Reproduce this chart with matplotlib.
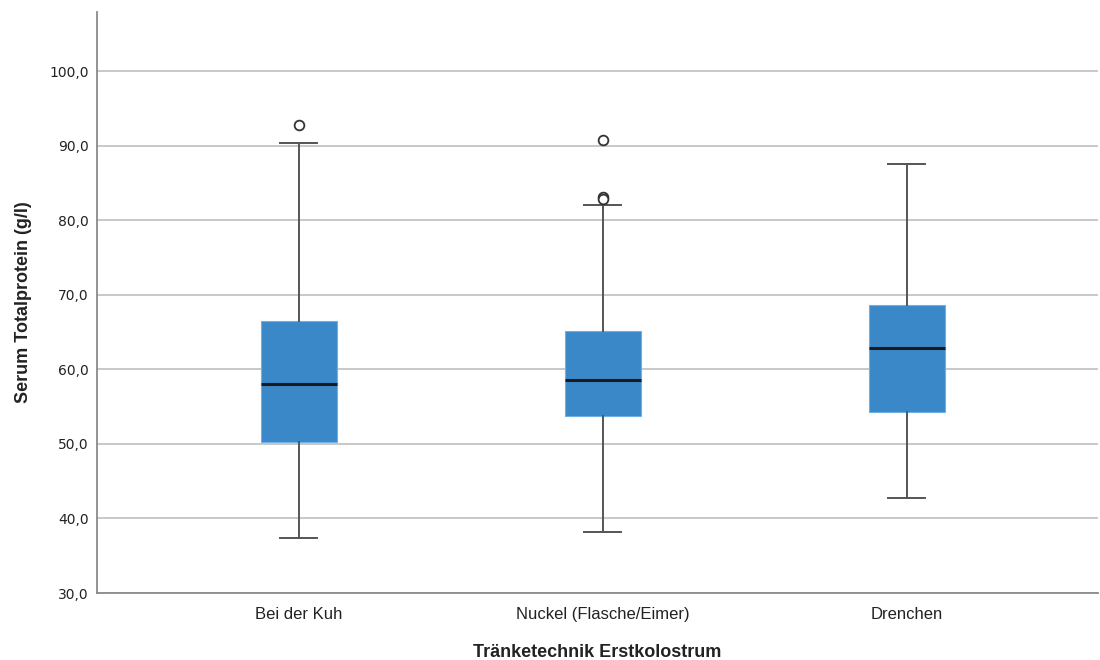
import matplotlib
matplotlib.use("Agg")
import matplotlib.pyplot as plt
from matplotlib.ticker import FuncFormatter

# Serum total protein by colostrum feeding technique
groups = ["Bei der Kuh", "Nuckel (Flasche/Eimer)", "Drenchen"]
q1 = [50.3, 53.8, 54.3]
medians = [58.0, 58.6, 62.9]
q3 = [66.5, 65.1, 68.6]
whisker_low = [37.4, 38.2, 42.8]
whisker_high = [90.4, 82.1, 87.5]
outliers = [[92.8], [90.7, 83.1, 82.8], []]

stats = []
for i, name in enumerate(groups):
    stats.append(dict(label=name, med=medians[i], q1=q1[i], q3=q3[i],
                      whislo=whisker_low[i], whishi=whisker_high[i],
                      fliers=outliers[i]))

fig = plt.figure(figsize=(11, 6.6), dpi=100)
ax = fig.add_axes([0.088, 0.1015, 0.91, 0.88])

ax.bxp(stats, positions=[1, 2, 3], widths=0.25, patch_artist=True,
       boxprops=dict(facecolor="#3a88c8", edgecolor="#6fb0e6", linewidth=0.8),
       medianprops=dict(color="#1a1a1a", linewidth=2.2),
       whiskerprops=dict(color="#555555", linewidth=1.4),
       capprops=dict(color="#555555", linewidth=1.4),
       capwidths=0.12,
       flierprops=dict(marker="o", markersize=7, markerfacecolor="white",
                       markeredgecolor="#333333", markeredgewidth=1.3),
       zorder=3)

ax.set_xlim(0.336, 3.629)
ax.set_ylim(30, 107.9)
ax.set_yticks([30, 40, 50, 60, 70, 80, 90, 100])
ax.yaxis.set_major_formatter(FuncFormatter(lambda v, p: f"{v:.1f}".replace(".", ",")))
ax.grid(axis="y", color="#c4c4c4", linewidth=1.3, zorder=0)
ax.set_axisbelow(True)

for side in ("top", "right"):
    ax.spines[side].set_visible(False)
for side in ("left", "bottom"):
    ax.spines[side].set_color("#8a8a8a")
    ax.spines[side].set_linewidth(1.3)

ax.tick_params(axis="y", length=0, pad=6, labelsize=10, labelcolor="#222222")
ax.tick_params(axis="x", length=0, pad=10, labelsize=12, labelcolor="#222222")
for t in ax.get_xticklabels():
    t.set_fontfamily("Liberation Sans")

ax.set_ylabel("Serum Totalprotein (g/l)", fontsize=13, fontweight="bold",
              family="Liberation Sans", color="#222222", labelpad=12)
ax.set_xlabel("Tränketechnik Erstkolostrum", fontsize=13, fontweight="bold",
              family="Liberation Sans", color="#222222", labelpad=16)

fig.savefig("out.png", dpi=100)
